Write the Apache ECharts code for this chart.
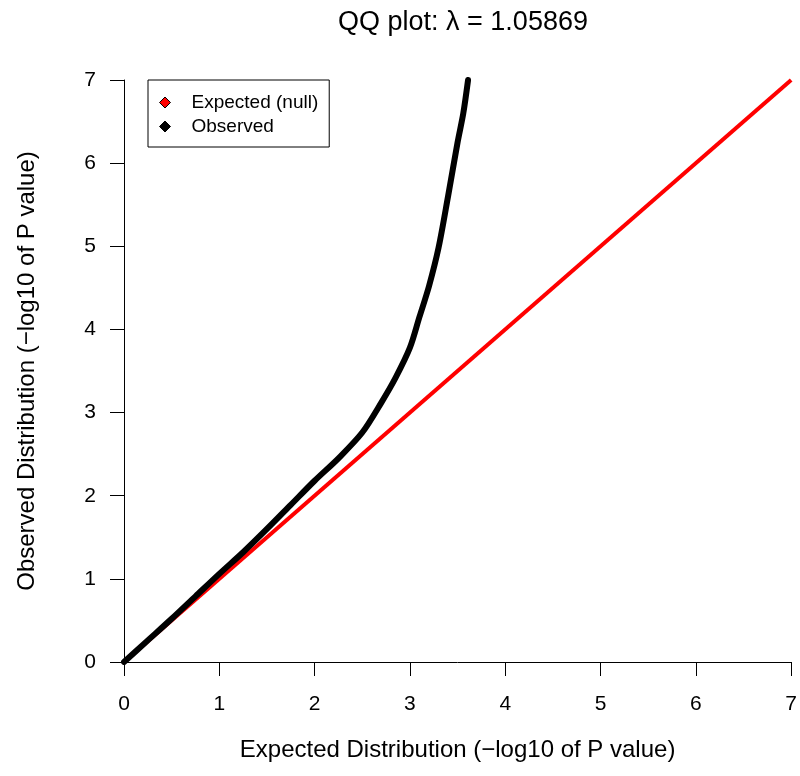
<!DOCTYPE html>
<html>
<head>
<meta charset="utf-8">
<script src="https://cdn.jsdelivr.net/npm/echarts@6/dist/echarts.min.js"></script>
<style>
  html, body { margin: 0; padding: 0; background: #fff; }
  #chart { width: 800px; height: 776px; }
</style>
</head>
<body>
<div id="chart"></div>
<script>
// values
const titleText = 'QQ plot: \u03bb = 1.05869'
const tickValues = [0, 1, 2, 3, 4, 5, 6, 7]

// expected (null) line: y = x
const expectedX = [0, 7]
const expectedY = [0, 7]

// observed -log10(p) quantiles
const observedX = [0, 0.25, 0.5, 0.75, 1.0, 1.25, 1.5, 1.75, 2.0, 2.25, 2.5, 2.7, 2.85, 3.0, 3.1, 3.2, 3.3, 3.4, 3.5, 3.56, 3.61]
const observedY = [0, 0.26, 0.52, 0.79, 1.06, 1.32, 1.6, 1.89, 2.18, 2.45, 2.76, 3.12, 3.42, 3.78, 4.15, 4.52, 4.98, 5.6, 6.25, 6.6, 7.0]

const font = '"Liberation Sans", Arial, Helvetica, sans-serif'

const zip = (xs, ys) => xs.map((x, i) => [x, ys[i]])

const chart = echarts.init(document.getElementById('chart'))

const axisCommon = {
  type: 'value',
  min: 0,
  max: 7,
  interval: 1,
  nameLocation: 'middle',
  nameTextStyle: { fontFamily: font, fontSize: 24, color: '#000' },
  axisLine: { show: true, onZero: false, lineStyle: { color: '#000', width: 1 } },
  axisTick: { show: true, inside: false, length: 14, lineStyle: { color: '#000', width: 1 } },
  axisLabel: {
    fontFamily: font,
    fontSize: 21,
    color: '#000',
    formatter: v => (tickValues.includes(v) ? String(v) : ''),
  },
  splitLine: { show: false },
}

const option = {
  backgroundColor: '#fff',
  animation: false,
  title: {
    text: titleText,
    left: 458,
    textAlign: 'center',
    top: 4,
    textStyle: { fontFamily: font, fontSize: 27, fontWeight: 'normal', color: '#000' },
  },
  grid: { left: 124, right: 8, top: 80, bottom: 114, containLabel: false },
  legend: {
    orient: 'vertical',
    left: 148,
    top: 80,
    padding: [13, 11, 11, 11],
    itemGap: 5,
    itemWidth: 11,
    itemHeight: 11,
    borderColor: '#000',
    borderWidth: 1,
    borderRadius: 0,
    textStyle: { fontFamily: font, fontSize: 19, lineHeight: 14, color: '#000', padding: [0, 0, 0, 16] },
    data: [
      { name: 'Expected (null)', icon: 'diamond', itemStyle: { color: '#ff0000', borderColor: '#000', borderWidth: 1 } },
      { name: 'Observed', icon: 'diamond', itemStyle: { color: '#000', borderColor: '#000', borderWidth: 1 } },
    ],
  },
  xAxis: Object.assign({}, axisCommon, {
    name: 'Expected Distribution (\u2212log10 of P value)',
    nameGap: 76,
    axisLabel: Object.assign({}, axisCommon.axisLabel, { margin: 32 }),
  }),
  yAxis: Object.assign({}, axisCommon, {
    name: 'Observed Distribution (\u2212log10 of P value)',
    nameGap: 85,
    axisLabel: Object.assign({}, axisCommon.axisLabel, { margin: 28 }),
  }),
  series: [
    {
      name: 'Expected (null)',
      type: 'line',
      data: zip(expectedX, expectedY),
      showSymbol: false,
      symbol: 'none',
      color: '#ff0000',
      lineStyle: { color: '#ff0000', width: 4 },
      z: 2,
    },
    {
      name: 'Observed',
      type: 'line',
      data: zip(observedX, observedY),
      smooth: 0.3,
      showSymbol: false,
      symbol: 'none',
      color: '#000',
      lineStyle: { color: '#000', width: 6, cap: 'round', join: 'round' },
      z: 3,
    },
  ],
}

chart.setOption(option)
</script>
</body>
</html>
